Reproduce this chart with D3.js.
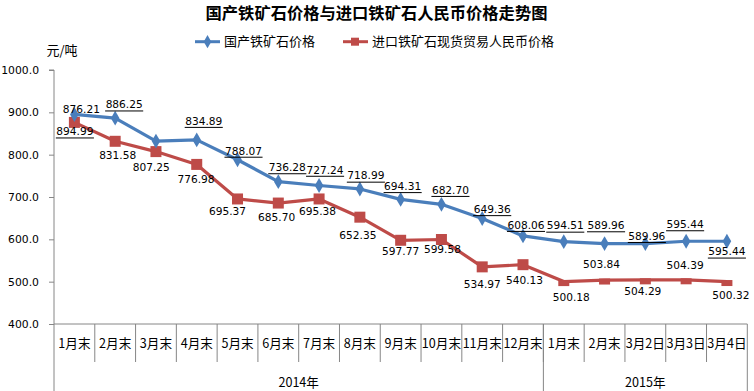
<!DOCTYPE html>
<html><head><meta charset="utf-8">
<script src="https://cdn.jsdelivr.net/npm/d3@7"></script>
<style>body{margin:0;background:#fff}svg{display:block}</style>
</head><body>
<svg id="c" width="754" height="391"></svg>
<script>
// ---- data ----
const categories = ["1月末","2月末","3月末","4月末","5月末","6月末","7月末","8月末","9月末","10月末","11月末","12月末","1月末","2月末","3月2日","3月3日","3月4日"];
const years = [{label:"2014年", from:0, to:11},{label:"2015年", from:12, to:16}];
const domesticName = "国产铁矿石价格";
const importName = "进口铁矿石现货贸易人民币价格";
const domestic = [894.99,886.25,832.00,834.89,788.07,736.28,727.24,718.99,694.31,682.70,649.36,608.06,594.51,589.96,589.96,595.44,595.44];
const domesticShown = [1,1,0,1,1,1,1,1,1,1,1,1,1,1,1,1,1];
const imported = [876.21,831.58,807.25,776.98,695.37,685.70,695.38,652.35,597.77,599.58,534.97,540.13,500.18,503.84,504.29,504.39,500.32];
const yTicks = [400,500,600,700,800,900,1000];

// ---- layout / style ----
const W=754,H=391, L=54, R=747.3, T=70, B=324;
const blue="#4A7EBB", red="#BE4B48", axisCol="#868686";
const blueOff=[[0.5,17],[9,-13.7],[0,0],[7,-19],[6,-9],[9,-14.4],[6,-15.7],[6,-13.3],[2,-13.3],[9,-14.4],[10,-9.3],[3,-11],[1.5,-16],[1.5,-18.3],[1.5,-7.6],[-1,-17],[0,10.3]];
const redOff=[[7,-13],[2.5,14],[-4.7,15.3],[-0.7,14.7],[-10,12.7],[-1.7,13.7],[-1.5,12.4],[-2,18.4],[0,11.4],[1,10],[0,17.3],[1.5,15.7],[7.5,15.7],[-3,-15.7],[-2.5,11],[-1,-15],[4,13.7]];

const svg=d3.select("#c");
const x=d3.scaleBand().domain(d3.range(categories.length)).range([L,R]).padding(0);
const y=d3.scaleLinear().domain([400,1000]).range([B,T]);
const cx=i=>x(i)+x.bandwidth()/2;
const numFont="'DejaVu Sans', Verdana, sans-serif";
const cjk="'Noto Sans CJK SC', sans-serif";

// title
svg.append("text").attr("x",376.5).attr("y",13).attr("dy","0.35em").attr("text-anchor","middle")
  .attr("font-family",cjk).attr("font-weight","bold").attr("font-size",16.3).attr("fill","#000")
  .text("国产铁矿石价格与进口铁矿石人民币价格走势图");
// unit
svg.append("text").attr("x",46.5).attr("y",50).attr("dy","0.35em").attr("font-family",cjk)
  .attr("font-size",13).attr("fill","#000").text("元/吨");

// legend
const lg=svg.append("g");
lg.append("line").attr("x1",195).attr("x2",220).attr("y1",41.7).attr("y2",41.7).attr("stroke",blue).attr("stroke-width",3);
lg.append("path").attr("d",d3.symbol(d3.symbolDiamond,50)()).attr("transform","translate(207.5,41.7)").attr("fill",blue);
lg.append("text").attr("x",224).attr("y",41.7).attr("dy","0.35em").attr("font-family",cjk).attr("font-size",13).text(domesticName);
lg.append("line").attr("x1",343).attr("x2",368).attr("y1",41.7).attr("y2",41.7).attr("stroke",red).attr("stroke-width",3);
lg.append("rect").attr("x",351).attr("y",37.7).attr("width",8).attr("height",8).attr("fill",red);
lg.append("text").attr("x",372).attr("y",41.7).attr("dy","0.35em").attr("font-family",cjk).attr("font-size",13).text(importName);

// y axis
const ya=svg.append("g").attr("transform",`translate(${L},0)`)
  .call(d3.axisLeft(y).tickValues(yTicks).tickSize(5).tickPadding(10).tickFormat(d3.format(".1f")));
ya.select(".domain").attr("stroke",axisCol).attr("d",`M-5,${T}H0V${B}`);
ya.selectAll(".tick line").attr("stroke",axisCol);
ya.selectAll(".tick text").attr("font-family",numFont).attr("font-size",10.8).attr("fill","#000");

// x axis
const xa=svg.append("g");
xa.append("line").attr("x1",L).attr("x2",R).attr("y1",B).attr("y2",B).attr("stroke",axisCol);
categories.forEach((c,i)=>{
  if(i>0) xa.append("line").attr("x1",x(i)).attr("x2",x(i)).attr("y1",B).attr("y2",362).attr("stroke",axisCol);
  xa.append("text").attr("x",cx(i)).attr("y",344).attr("dy","0.35em").attr("text-anchor","middle")
    .attr("font-family",cjk).attr("font-size",12.6).attr("fill","#000").text(c);
});
years.forEach(g=>{
  const x0=x(g.from), x1=x(g.to)+x.bandwidth();
  xa.append("text").attr("x",(x0+x1)/2).attr("y",382.5).attr("dy","0.35em").attr("text-anchor","middle")
    .attr("font-family",cjk).attr("font-size",12.6).attr("fill","#000").text(g.label);
});
[x(0), x(years[1].from), R].forEach(v=>xa.append("line").attr("x1",v).attr("x2",v).attr("y1",B).attr("y2",H).attr("stroke",axisCol));

// lines
const line=d3.line().x((d,i)=>cx(i)).y(d=>y(d));
svg.append("path").datum(imported).attr("d",line).attr("fill","none").attr("stroke",red).attr("stroke-width",3.2).attr("stroke-linejoin","round");
svg.append("path").datum(domestic).attr("d",line).attr("fill","none").attr("stroke",blue).attr("stroke-width",3.2).attr("stroke-linejoin","round");

// markers
imported.forEach((v,i)=>{
  const flat=i>=12;
  const w=flat?11:11, h=flat?6:11;
  svg.append("rect").attr("x",cx(i)-w/2).attr("y",y(v)-(flat?1.5:h/2)).attr("width",w).attr("height",h).attr("fill",red);
});
domestic.forEach((v,i)=>{
  svg.append("path").attr("d",d3.symbol(d3.symbolDiamond,64)()).attr("transform",`translate(${cx(i)},${y(v)})`).attr("fill",blue);
});

// data labels
function label(txt,xx,yy,under){
  const t=svg.append("text").attr("x",xx).attr("y",yy).attr("dy","0.36em").attr("text-anchor","middle")
    .attr("font-family",numFont).attr("font-size",10.6).attr("fill","#000").text(txt);
  if(under){
    const w=t.node().getComputedTextLength();
    svg.append("line").attr("x1",xx-w/2-0.5).attr("x2",xx+w/2+0.5).attr("y1",yy+6.5).attr("y2",yy+6.5).attr("stroke","#000").attr("stroke-width",1);
  }
}
domestic.forEach((v,i)=>{ if(domesticShown[i]) label(d3.format(".2f")(v),cx(i)+blueOff[i][0],y(v)+blueOff[i][1],true); });
imported.forEach((v,i)=>label(d3.format(".2f")(v),cx(i)+redOff[i][0],y(v)+redOff[i][1],false));
</script>
</body></html>
